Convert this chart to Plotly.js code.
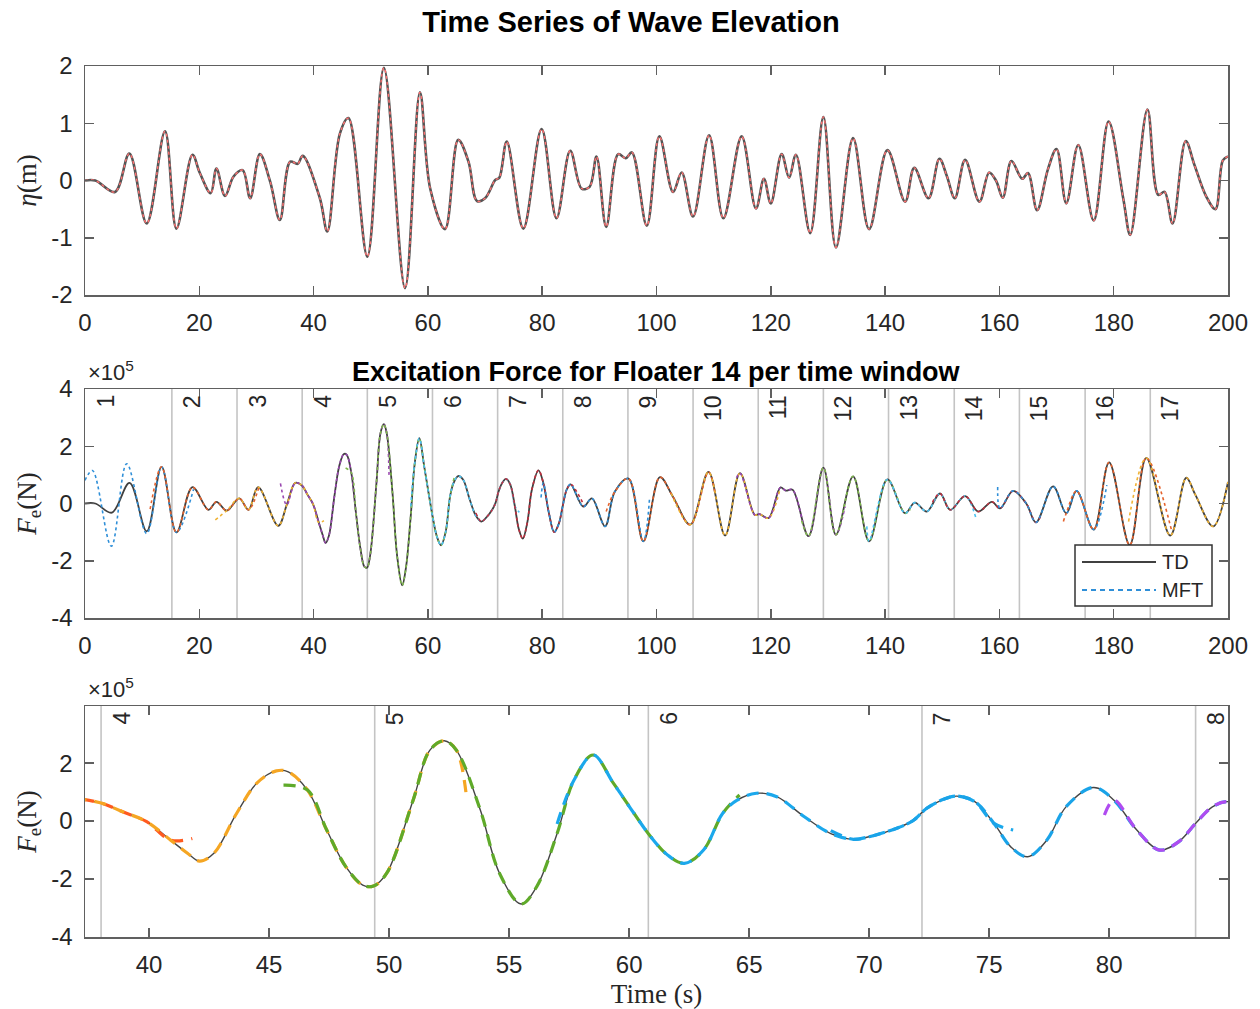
<!DOCTYPE html>
<html>
<head>
<meta charset="utf-8">
<script src="https://cdn.plot.ly/plotly-3.0.1.min.js"></script>
<style>html,body{margin:0;padding:0;background:#fff;}#chart{width:1260px;height:1009px;}</style>
</head>
<body>
<div id="chart"></div>
<script>
// ---------------- DATA ----------------
// Wave elevation eta (m) vs time (s)
const etaTime = [0, 1.8, 5.25, 7.76, 10.8, 14.0, 16.0, 18.8, 20.1, 22.0, 23.0, 24.5, 26.0, 27.6, 28.9, 30.6, 32.4, 34.1, 35.9, 37.2, 38.1, 41.1, 42.4, 44.6, 46.1, 49.4, 52.3, 56.0, 58.6, 60.4, 63.0, 65.3, 67.1, 68.6, 70.0, 71.8, 72.5, 73.8, 76.7, 79.9, 82.5, 84.9, 86.9, 88.3, 89.5, 91.2, 93.3, 94.6, 95.7, 98.3, 100.5, 102.9, 104.4, 106.4, 109.2, 111.7, 114.9, 117.4, 118.8, 120.0, 121.9, 123.2, 124.4, 126.9, 129.2, 131.4, 134.4, 137.2, 140.4, 143.5, 145.1, 147.6, 149.5, 150.8, 152.2, 154.0, 156.5, 158.2, 159.4, 160.6, 162.1, 164.0, 165.0, 166.6, 168.5, 170.0, 171.7, 173.8, 176.5, 179.1, 181.7, 182.9, 185.9, 187.8, 188.9, 190.3, 192.6, 194.1, 196.2, 197.8, 199.1, 200];
const etaValue = [0, 0.0, -0.2, 0.47, -0.75, 0.86, -0.84, 0.45, 0.13, -0.22, 0.21, -0.27, 0.07, 0.18, -0.31, 0.46, -0.02, -0.69, 0.33, 0.29, 0.43, -0.31, -0.89, 0.82, 1.09, -1.33, 1.97, -1.88, 1.54, -0.14, -0.85, 0.71, 0.33, -0.36, -0.31, 0.01, 0.05, 0.68, -0.84, 0.9, -0.66, 0.52, -0.14, -0.11, 0.42, -0.81, 0.46, 0.39, 0.49, -0.79, 0.77, -0.2, 0.14, -0.63, 0.79, -0.66, 0.77, -0.49, 0.03, -0.4, 0.46, 0.05, 0.45, -0.92, 1.11, -1.17, 0.74, -0.85, 0.53, -0.37, 0.22, -0.31, 0.38, 0.08, -0.31, 0.36, -0.37, 0.14, 0.0, -0.3, 0.34, 0.03, 0.13, -0.52, 0.2, 0.55, -0.4, 0.62, -0.7, 1.03, -0.33, -0.95, 1.24, -0.25, -0.2, -0.75, 0.69, 0.28, -0.28, -0.5, 0.35, 0.42];

// Excitation force (TD), in units of 1e5 N
const forceTime = [0, 1.8, 4.7, 7.8, 10.8, 13.4, 16.0, 18.8, 21.6, 23.0, 24.8, 27.0, 28.6, 30.3, 33.8, 35.3, 36.8, 37.96, 38.9, 39.9, 40.9, 41.6, 42.1, 42.7, 43.65, 44.5, 45.3, 45.8, 46.6, 47.4, 48.2, 48.9, 49.35, 49.9, 51.0, 51.7, 52.3, 52.8, 53.8, 54.6, 55.5, 56.15, 57.0, 57.7, 58.5, 59.35, 60.2, 60.9, 61.6, 62.3, 63.1, 63.9, 64.5, 65.3, 66.15, 67.3, 68.4, 69.35, 70.0, 71.3, 71.85, 72.4, 73.1, 73.65, 74.4, 75.2, 75.9, 76.6, 77.4, 78.2, 79.35, 80.2, 81.15, 82.1, 82.9, 83.6, 84.3, 84.97, 87.2, 88.7, 91.0, 92.7, 95.1, 97.7, 100.6, 102.9, 105.9, 109.1, 112.0, 114.6, 117.2, 118.0, 119.6, 121.7, 122.6, 123.8, 126.6, 129.2, 131.4, 134.4, 137.2, 140.4, 143.5, 145.2, 147.3, 149.6, 151.4, 154.0, 156.3, 158.7, 160.1, 162.4, 164.7, 166.4, 169.4, 171.7, 173.5, 176.5, 179.2, 182.8, 185.7, 189.9, 192.7, 194.3, 197.4, 200];
const forceTD = [0, 0, -0.32, 0.72, -0.97, 1.28, -1.01, 0.57, -0.22, 0.06, -0.25, 0.18, -0.22, 0.57, -0.78, -0.05, 0.72, 0.63, 0.32, -0.02, -0.66, -1.11, -1.38, -1.11, 0.27, 1.32, 1.73, 1.70, 1.07, -0.31, -1.58, -2.21, -2.24, -1.8, 0.72, 2.45, 2.77, 2.45, 0.38, -1.8, -2.86, -2.26, -0.43, 1.41, 2.28, 1.3, 0.27, -0.54, -1.17, -1.46, -1.0, 0.27, 0.72, 0.96, 0.84, 0.15, -0.43, -0.63, -0.54, -0.2, 0.03, 0.44, 0.75, 0.86, 0.67, -0.08, -0.89, -1.23, -0.66, 0.49, 1.16, 0.72, -0.31, -1.0, -0.71, -0.08, 0.49, 0.67, -0.11, 0.18, -0.8, 0.41, 0.87, -1.32, 0.92, 0.23, -0.74, 1.1, -1.12, 1.06, -0.4, -0.37, -0.51, 0.56, 0.45, 0.48, -1.14, 1.25, -1.09, 0.95, -1.32, 0.84, -0.34, 0.03, -0.28, 0.35, -0.22, 0.26, -0.28, 0.06, -0.17, 0.44, 0.0, -0.66, 0.6, -0.34, 0.44, -0.91, 1.44, -1.45, 1.59, -1.12, 0.9, 0.3, -0.8, 0.75];

// Time windows
const windowLabels = ['1','2','3','4','5','6','7','8','9','10','11','12','13','14','15','16','17'];
const windowStart = [0, 15.2, 26.6, 38.0, 49.4, 60.8, 72.2, 83.6, 95.0, 106.4, 117.8, 129.2, 140.6, 152.1, 163.5, 175.0, 186.4];
const windowOverlap = 3.8;  // MFT segments extend this far (s) beyond each window
// MFT values at the start / end of each extended window segment (1e5 N)
const mftStartValue = [0.81, -0.2, -0.57, 0.7, 1.24, -0.1, -0.33, 0.21, -0.28, 0.35, 0.9, -0.6, -0.8, 0.05, 0.58, -0.63, -0.63];
const mftEndValue   = [0.5, 0.55, -0.6, 1.0, 0.9, -0.31, -0.1, 0.23, 0.4, 0.5, -0.1, -0.2, -0.51, -0.4, 0.64, -1.0, 0.75];
// Window 1 MFT start (strong deviation)
const mft1HeadTime  = [0, 1.3, 4.6, 7.3, 10.8];
const mft1HeadValue = [0.81, 1.15, -1.49, 1.39, -1.05];

// colours
const midColors = ['#2f8fd8','#e5622c','#f0b233','#9a48b0','#7db84a','#4cc2f0','#c0303f'];
const bottomColors = {3:'#ff5a1f', 4:'#f5a623', 5:'#5faa2a', 6:'#1ba8ec', 7:'#1aa3e8', 8:'#b04cf0'};

// ---------------- BUILD ----------------
const W = 1260, H = 1009;
const px = p => p / W;
const py = p => 1 - p / H;
const tEnd = 200;

function mftSegment(k) {
  const s = windowStart[k];
  const e = k + 1 < windowStart.length ? windowStart[k + 1] : tEnd;
  const a = Math.max(0, s - windowOverlap);
  const b = Math.min(tEnd, e + windowOverlap);
  let xs = [], ys = [];
  let lo;
  if (k === 0) { xs = mft1HeadTime.slice(); ys = mft1HeadValue.slice(); lo = mft1HeadTime[mft1HeadTime.length - 1]; }
  else { xs = [a]; ys = [mftStartValue[k]]; lo = a; }
  for (let i = 0; i < forceTime.length; i++) {
    if (forceTime[i] > lo + 0.3 && forceTime[i] < b - 0.3) { xs.push(forceTime[i]); ys.push(forceTD[i]); }
  }
  xs.push(b); ys.push(mftEndValue[k]);
  return {x: xs, y: ys};
}

const traces = [];
// top panel
traces.push({x: etaTime, y: etaValue, type:'scatter', mode:'lines', xaxis:'x', yaxis:'y',
  line:{color:'#555555', width:2.6, shape:'spline', smoothing:1}, showlegend:false, hoverinfo:'skip'});
traces.push({x: etaTime, y: etaValue, type:'scatter', mode:'lines', xaxis:'x', yaxis:'y',
  line:{color:'#ff7070', width:1.4, shape:'spline', smoothing:1, dash:'3px,3px'}, showlegend:false, hoverinfo:'skip'});
// middle panel
traces.push({x: forceTime, y: forceTD, type:'scatter', mode:'lines', xaxis:'x2', yaxis:'y2', name:'TD',
  line:{color:'#404040', width:1.8, shape:'spline', smoothing:1}, showlegend:false});
for (let k = 0; k < windowStart.length; k++) {
  const seg = mftSegment(k);
  traces.push({x: seg.x, y: seg.y, type:'scatter', mode:'lines', xaxis:'x2', yaxis:'y2', name:'MFT',
    line:{color: midColors[k % midColors.length], width:1.6, shape:'spline', smoothing:1, dash:'3px,3px'}, showlegend:false});
}
// bottom panel
traces.push({x: forceTime, y: forceTD, type:'scatter', mode:'lines', xaxis:'x3', yaxis:'y3', name:'TD',
  line:{color:'#454545', width:1.4, shape:'spline', smoothing:1}, showlegend:false});
for (let k = 2; k <= 7; k++) {
  const seg = mftSegment(k);
  traces.push({x: seg.x, y: seg.y, type:'scatter', mode:'lines', xaxis:'x3', yaxis:'y3', name:'MFT',
    line:{color: bottomColors[k + 1], width:3.2, shape:'spline', smoothing:1, dash:'12px,8px'}, showlegend:false});
}

const xDom = [px(85), px(1228)];
const tickFont = {family:'Liberation Sans, Arial, sans-serif', size:24, color:'#262626'};
const serif = {family:'Liberation Serif, Times New Roman, serif', size:27, color:'#262626'};
function ax(extra) {
  return Object.assign({showline:true, linecolor:'#606060', linewidth:1.5, mirror:'allticks', ticks:'inside',
    ticklen:9, tickwidth:1.5, tickcolor:'#606060', showgrid:false, zeroline:false, tickfont:tickFont,
    ticklabelstandoff:6, fixedrange:true}, extra);
}

const shapes = [];
const annotations = [];
const labelFont = {family:'Liberation Sans, Arial', size:23, color:'#262626'};
// window lines + labels
for (let k = 0; k < windowStart.length; k++) {
  if (k > 0) shapes.push({type:'line', xref:'x2', yref:'y2 domain', x0:windowStart[k], x1:windowStart[k], y0:0, y1:1,
    line:{color:'#c4c4c4', width:1.6}, layer:'below'});
  annotations.push({text:windowLabels[k], xref:'x2', yref:'y2 domain', x:windowStart[k], y:1, xanchor:'center', yanchor:'top',
    xshift:20, yshift:-4, textangle:-90, showarrow:false, font:labelFont});
}
for (let k = 3; k <= 7; k++) {
  shapes.push({type:'line', xref:'x3', yref:'y3 domain', x0:windowStart[k], x1:windowStart[k], y0:0, y1:1,
    line:{color:'#c4c4c4', width:1.6}, layer:'below'});
  annotations.push({text:windowLabels[k], xref:'x3', yref:'y3 domain', x:windowStart[k], y:1, xanchor:'center', yanchor:'top',
    xshift:20, yshift:-4, textangle:-90, showarrow:false, font:labelFont});
}
// middle title
annotations.push({text:'<b>Excitation Force for Floater 14 per time window</b>', xref:'paper', yref:'paper',
  x:(xDom[0]+xDom[1])/2, y:py(372), xanchor:'center', yanchor:'middle', showarrow:false,
  font:{family:'Liberation Sans, Arial', size:27, color:'#000'}});
// x10^5 exponents
[[px(86), py(387)], [px(86), py(704)]].forEach(p => annotations.push({text:'×10<sup>5</sup>', xref:'paper', yref:'paper',
  x:p[0], y:p[1], xanchor:'left', yanchor:'bottom', showarrow:false, font:{family:'Liberation Sans, Arial', size:22, color:'#262626'}}));
// manual legend
shapes.push({type:'rect', xref:'paper', yref:'paper', x0:px(1075), x1:px(1212), y0:py(606), y1:py(545),
  line:{color:'#333', width:1.5}, fillcolor:'#ffffff', layer:'above'});
shapes.push({type:'line', xref:'paper', yref:'paper', x0:px(1082), x1:px(1156), y0:py(562), y1:py(562),
  line:{color:'#404040', width:2}, layer:'above'});
shapes.push({type:'line', xref:'paper', yref:'paper', x0:px(1082), x1:px(1156), y0:py(590), y1:py(590),
  line:{color:midColors[0], width:2, dash:'5px,4px'}, layer:'above'});
annotations.push({text:'TD', xref:'paper', yref:'paper', x:px(1160), y:py(562), xanchor:'left', yanchor:'middle',
  showarrow:false, font:{family:'Liberation Sans, Arial', size:20, color:'#262626'}});
annotations.push({text:'MFT', xref:'paper', yref:'paper', x:px(1160), y:py(590), xanchor:'left', yanchor:'middle',
  showarrow:false, font:{family:'Liberation Sans, Arial', size:20, color:'#262626'}});

const layout = {
  width:W, height:H, margin:{l:0, r:0, t:0, b:0}, paper_bgcolor:'#fff', plot_bgcolor:'#fff', showlegend:false,
  title:{text:'<b>Time Series of Wave Elevation</b>', x:px(631), y:py(22), xanchor:'center', yanchor:'middle',
    font:{family:'Liberation Sans, Arial', size:29, color:'#000'}},
  xaxis: ax({domain:xDom, anchor:'y', range:[0,200], tick0:0, dtick:20}),
  yaxis: ax({domain:[py(295), py(66)], anchor:'x', range:[-2,2], tickvals:[-2,-1,0,1,2], ticktext:['-2','-1','0','1','2'],
    title:{text:'<i>η</i>(m)', font:serif, standoff:7}}),
  xaxis2: ax({domain:xDom, anchor:'y2', range:[0,200], tick0:0, dtick:20}),
  yaxis2: ax({domain:[py(618), py(389)], anchor:'x2', range:[-4,4], tickvals:[-4,-2,0,2,4], ticktext:['-4','-2','0','2','4'],
    title:{text:'<i>F</i><sub>e</sub>(N)', font:serif, standoff:7}}),
  xaxis3: ax({domain:xDom, anchor:'y3', range:[37.33,84.95], tick0:0, dtick:5,
    title:{text:'Time (s)', font:serif, standoff:8}}),
  yaxis3: ax({domain:[py(937), py(706)], anchor:'x3', range:[-4,3.97], tickvals:[-4,-2,0,2], ticktext:['-4','-2','0','2'],
    title:{text:'<i>F</i><sub>e</sub>(N)', font:serif, standoff:7}}),
  shapes: shapes, annotations: annotations
};

Plotly.newPlot('chart', traces, layout, {displayModeBar:false, staticPlot:true});
</script>
</body>
</html>
